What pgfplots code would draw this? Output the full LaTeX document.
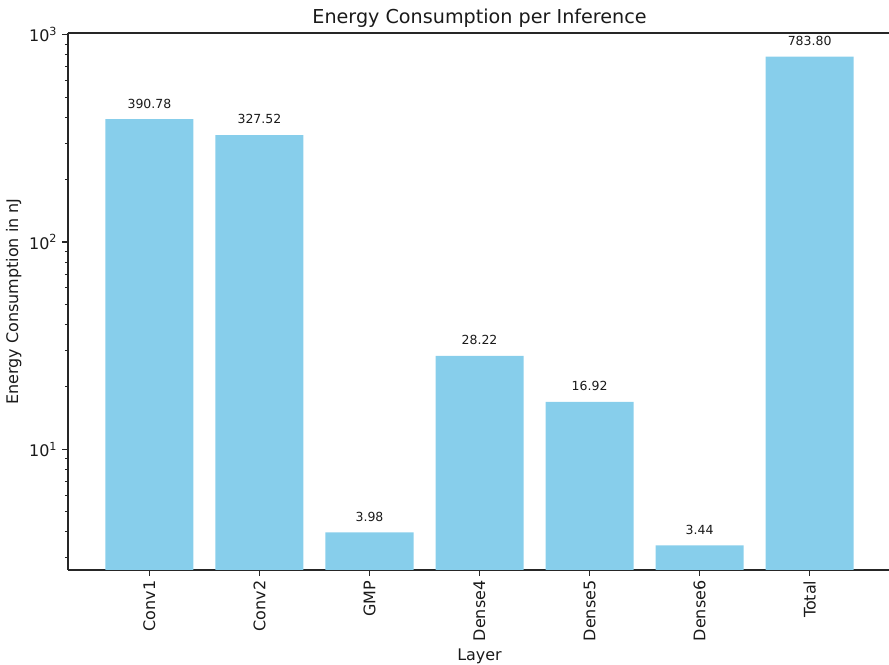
\documentclass[border=0pt]{standalone}
\usepackage{fontspec}
\setmainfont{DejaVu Sans}
\usepackage{pgfplots}
\pgfplotsset{compat=1.18}
\usepackage{pgfplotstable}
\definecolor{skyblue}{HTML}{87CEEB}
\definecolor{txt}{HTML}{1A1A1A}
\pgfplotstableread{
x y label
0 390.78 390.78
1 327.52 327.52
2 3.98 3.98
3 28.22 28.22
4 16.92 16.92
5 3.44 3.44
6 783.80 783.80
}\datatable
\begin{document}
\begin{tikzpicture}
\begin{axis}[
  name=ax,
  scale only axis,
  width=592.6pt, height=386.6pt,
  ymode=log,
  xmin=-0.74, xmax=6.74,
  ymin=2.62, ymax=1017,
  axis x line=box, axis y line=left,
  axis line style={-, line width=0.9pt, black!85},
  every outer x axis line/.append style={-},
  every outer y axis line/.append style={-},
  every inner x axis line/.append style={-},
  every inner y axis line/.append style={-},
  xtick={0,1,2,3,4,5,6},
  xticklabels={Conv1,Conv2,GMP,Dense4,Dense5,Dense6,Total},
  xtick pos=left, ytick pos=left,
  ytick={10,100,1000},
  yticklabels={10\textsuperscript{1},10\textsuperscript{2},10\textsuperscript{3}},
  minor ytick={3,4,5,6,7,8,9,20,30,40,50,60,70,80,90,200,300,400,500,600,700,800,900},
  tick align=outside,
  major tick length=4pt, minor tick length=2.3pt,
  every tick/.style={black!85, line width=0.9pt},
  minor tick style={line width=0.7pt},
  xticklabel style={rotate=90, anchor=east, font=\fontsize{11.5}{13}\selectfont, text=txt, inner sep=2pt, xshift=-1.5pt},
  yticklabel style={font=\fontsize{11.5}{13}\selectfont, text=txt, inner sep=2pt, xshift=-1.5pt},
  xlabel={Layer}, ylabel={Energy Consumption in nJ},
  xlabel style={font=\fontsize{11.5}{13}\selectfont, text=txt},
  ylabel style={font=\fontsize{11.5}{13}\selectfont, text=txt},
  nodes near coords,
  point meta=explicit symbolic,
  every node near coord/.append style={font=\fontsize{9}{11}\selectfont, text=txt, anchor=base, inner sep=0pt, yshift=8pt},
]
\addplot[ybar, bar width=0.8, fill=skyblue, draw=none] table[x=x, y=y, meta=label] {\datatable};
\end{axis}
\node[anchor=base, inner sep=0pt, font=\fontsize{13.8}{16}\selectfont, text=txt] at ([yshift=6.9pt]ax.north) {Energy Consumption per Inference};
\pgfresetboundingbox
\path[use as bounding box] ([shift={(-48.96pt,-68.4pt)}]ax.south west) rectangle ([shift={(591.12pt,410.4pt)}]ax.south west);
\end{tikzpicture}
\end{document}
